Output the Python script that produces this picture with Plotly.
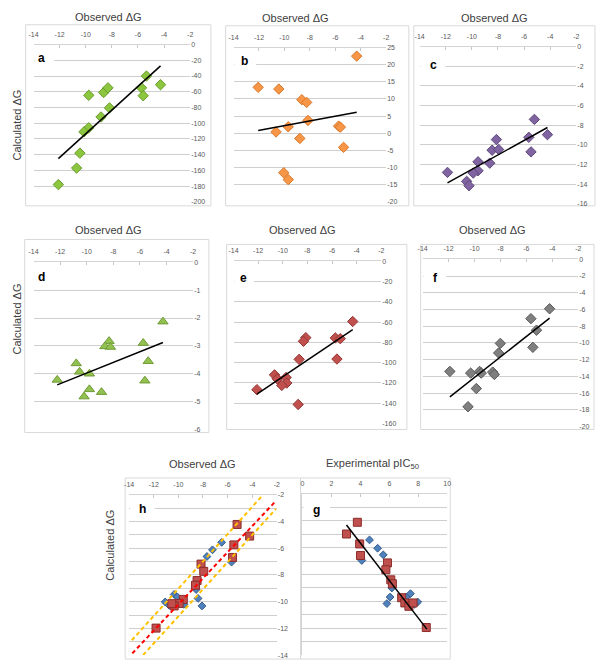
import numpy as np
import plotly.graph_objects as go

# ---------------- data ----------------
a_obs = [-4.27, -5.35, -5.73, -5.6, -9.77, -8.63, -8.3, -8.18, -8.83, -9.77, -10.14, -10.45, -10.7, -12.1]
a_calc = [-51, -40, -55, -65, -64.5, -61, -55, -80.5, -92, -105.7, -111, -138, -157, -178]

b_obs = [-4.32, -12.06, -10.44, -8.63, -8.25, -8.15, -9.7, -10.66, -5.74, -5.6, -8.79, -5.35, -10.05, -9.7]
b_calc = [22.5, 13.4, 12.9, 9.8, 9.0, 3.75, 1.9, 0.4, 2.1, 1.8, -1.5, -4.1, -11.5, -13.5]

c_obs = [-5.21, -4.21, -5.64, -5.47, -8.12, -8.45, -7.95, -8.63, -9.53, -9.53, -9.9, -11.87, -10.4, -10.22]
c_calc = [-7.41, -8.96, -9.23, -10.71, -9.46, -10.54, -10.47, -11.86, -11.72, -12.63, -12.87, -12.8, -13.71, -14.15]

d_obs = [-4.27, -5.75, -5.38, -5.63, -8.32, -8.64, -8.22, -10.79, -10.54, -9.8, -12.22, -9.8, -8.89, -10.2]
d_calc = [-2.13, -2.9, -3.55, -4.25, -2.83, -3.02, -3.04, -3.63, -3.93, -4.0, -4.22, -4.56, -4.66, -4.82]

e_obs = [-4.32, -5.73, -5.33, -5.6, -8.13, -8.32, -8.67, -10.67, -10.45, -9.73, -9.68, -10.08, -12.1, -8.75]
e_calc = [-59.4, -75.6, -76.3, -96.4, -75.3, -78.9, -96.7, -112, -115.9, -114.6, -120.1, -122.4, -126.6, -141.2]

f_obs = [-4.21, -5.65, -5.22, -5.5, -8.01, -8.14, -11.9, -10.3, -9.61, -9.48, -8.6, -8.47, -9.86, -10.5]
f_calc = [-5.92, -7.1, -8.48, -10.53, -10.06, -11.2, -13.41, -13.61, -13.41, -13.61, -13.49, -13.77, -15.46, -17.63]

h_red_x = [-5.23, -4.21, -5.49, -5.6, -8.16, -7.94, -8.48, -8.61, -9.6, -9.94, -10.34, -10.53, -11.81]
h_red_y = [-4.22, -5.09, -5.75, -6.69, -7.19, -7.73, -8.42, -8.77, -9.83, -10.13, -10.32, -10.15, -11.98]
h_blue_x = [-6.48, -7.23, -7.68, -5.68, -8.56, -8.4, -8.08, -10.34, -10.08, -11.07, -10.74, -9.55]
h_blue_y = [-5.56, -6.12, -6.62, -7.04, -9.09, -9.76, -10.32, -9.46, -9.65, -10.02, -10.27, -10.2]
# dashed reference lines in h (start/end values)
h_mid_x = [-13.74, -2.14]
h_mid_y = [-13.87, -2.52]
h_up_x = [-13.78, -3.14]
h_up_y = [-12.89, -2.02]
h_low_x = [-12.86, -2.08]
h_low_y = [-14.0, -3.06]

g_red_x = [3.79, 3.04, 3.95, 4.01, 5.87, 5.76, 6.1, 6.21, 6.85, 7.07, 7.35, 7.64, 8.55]
g_red_y = [-4.12, -4.99, -5.73, -6.59, -7.14, -7.65, -8.4, -8.69, -9.73, -10.12, -10.37, -10.12, -11.95]
g_blue_x = [4.63, 5.19, 5.58, 4.1, 6.17, 6.05, 5.83, 7.46, 7.96, 7.16, 7.73]
g_blue_y = [-5.43, -6.05, -6.54, -6.96, -9.01, -9.68, -10.17, -9.43, -10.05, -9.68, -10.22]
g_fit_x = [3.04, 8.59]
g_fit_y = [-4.32, -12.07]

obs_ticks = [-14, -12, -10, -8, -6, -4, -2]
pic_ticks = [0, 2, 4, 6, 8, 10]

# ---------------- layout helpers ----------------
W, H = 600, 667
def fx(p): return p / W
def fy(p): return 1 - p / H

FONT = "Liberation Sans, Arial, sans-serif"
TXT = "#404040"
GRID = "#cfcfcf"

fig = go.Figure()

# panel specs: (id, plot l, r, t, b, box l, r, t, b, yrange, ytick step, xticks, xrange)
panels = [
    (1, 29, 188, 41, 200, 21, 209, 21, 204, (-200, 0), 20, obs_ticks, (-14, -2)),
    (2, 232, 387, 44, 200, 224, 410, 22, 204, (-20, 25), 5, obs_ticks, (-14, -2)),
    (3, 421, 580, 43, 202, 415, 599, 22, 204, (-16, 0), 2, obs_ticks, (-14, -2)),
    (4, 29, 191, 261, 430, 20, 207, 238, 433, (-6, 0), 1, obs_ticks, (-14, -2)),
    (5, 232, 382, 260, 424, 225, 408, 243, 430, (-160, 0), 20, obs_ticks, (-14, -2)),
    (6, 424, 582, 258, 427, 422, 598, 243, 430, (-20, 0), 2, obs_ticks, (-14, -2)),
    (7, 126, 276, 496, 658, 122, 300, 479, 662, (-14, -2), 2, obs_ticks, (-14, -2)),
    (8, 302, 449, 495, 658, 300, 452, 479, 662, (-14, -2), 2, pic_ticks, (0, 10)),
]

shapes = []
for (i, l, r, t, b, bl, br, bt, bb, yr, ystep, xt, xr) in panels:
    sfx = "" if i == 1 else str(i)
    yvals = [float(v) for v in np.arange(yr[0], yr[1] + ystep / 2, ystep)]
    xax = dict(
        domain=[fx(l), fx(r)], range=list(xr), side="top", anchor="y" + sfx,
        tickvals=xt, ticktext=[f"{v:g}" for v in xt],
        tickfont=dict(size=7, color="#595959", family=FONT),
        showgrid=False, zeroline=False, showline=True, linecolor="#d4d4d4",
        ticks="inside", ticklen=3, tickcolor="#c8c8c8", fixedrange=True,
        ticklabelstandoff=4,
    )
    yax = dict(
        domain=[fy(b), fy(t)], range=list(yr), side="right", anchor="x" + sfx,
        tickvals=yvals, ticktext=[f"{v:g}" for v in yvals],
        tickfont=dict(size=7, color="#595959", family=FONT),
        showgrid=True, gridcolor=GRID, gridwidth=1, zeroline=False,
        showline=False, ticks="", fixedrange=True,
    )
    if i in (7, 8):
        yax["minor"] = dict(tickvals=list(range(-14, -1)), showgrid=True, gridcolor=GRID, gridwidth=1)
    if i == 8:
        yax["showticklabels"] = False
        yax["side"] = "left"
        yax["showline"] = True
        yax["linecolor"] = "#d4d4d4"
    fig.layout["xaxis" + sfx] = xax
    fig.layout["yaxis" + sfx] = yax
    shapes.append(dict(type="rect", xref="paper", yref="paper",
                       x0=fx(bl), x1=fx(br), y0=fy(bb), y1=fy(bt),
                       line=dict(color="#d9d9d9", width=1), layer="below"))


def axes(i):
    s = "" if i == 1 else str(i)
    return "x" + s, "y" + s


def scatter_panel(i, xs, ys, symbol, fill, edge, size):
    xa, ya = axes(i)
    fig.add_trace(go.Scatter(x=xs, y=ys, mode="markers", xaxis=xa, yaxis=ya,
                             marker=dict(symbol=symbol, size=size, color=fill,
                                         line=dict(color=edge, width=1)),
                             hoverinfo="x+y"))


def trend(i, xs, ys):
    xa, ya = axes(i)
    k, c = np.polyfit(xs, ys, 1)
    xx = np.array([min(xs), max(xs)])
    fig.add_trace(go.Scatter(x=xx, y=k * xx + c, mode="lines", xaxis=xa, yaxis=ya,
                             line=dict(color="black", width=1.5), hoverinfo="skip"))


scatter_panel(1, a_obs, a_calc, "diamond", "#8cc63e", "#6b9b2f", 8)
trend(1, a_obs, a_calc)
scatter_panel(2, b_obs, b_calc, "diamond", "#f79646", "#d9782b", 8)
trend(2, b_obs, b_calc)
scatter_panel(3, c_obs, c_calc, "diamond", "#8064a2", "#5f497a", 8)
trend(3, c_obs, c_calc)
scatter_panel(4, d_obs, d_calc, "triangle-up", "#93c150", "#6f9a36", 9)
trend(4, d_obs, d_calc)
scatter_panel(5, e_obs, e_calc, "diamond", "#c0504d", "#943634", 8)
trend(5, e_obs, e_calc)
scatter_panel(6, f_obs, f_calc, "diamond", "#7f7f7f", "#595959", 8)
trend(6, f_obs, f_calc)

# panel h
scatter_panel(7, h_blue_x, h_blue_y, "diamond", "#4f81bd", "#385d8a", 6)
scatter_panel(7, h_red_x, h_red_y, "square", "#c0504d", "#8b2d2b", 8)
for lx, ly, col in [(h_up_x, h_up_y, "#ffc000"), (h_low_x, h_low_y, "#ffc000"), (h_mid_x, h_mid_y, "#ff0000")]:
    fig.add_trace(go.Scatter(x=lx, y=ly, mode="lines", xaxis="x7", yaxis="y7",
                             line=dict(color=col, width=2, dash="4px,3px"), hoverinfo="skip"))

# panel g
scatter_panel(8, g_blue_x, g_blue_y, "diamond", "#4f81bd", "#385d8a", 6)
scatter_panel(8, g_red_x, g_red_y, "square", "#c0504d", "#8b2d2b", 8)
fig.add_trace(go.Scatter(x=g_fit_x, y=g_fit_y, mode="lines", xaxis="x8", yaxis="y8",
                         line=dict(color="black", width=1.5), hoverinfo="skip"))

# ---------------- annotations ----------------
ann = []
titles = [
    ("Observed ΔG", 105, 13), ("Observed ΔG", 295, 14), ("Observed ΔG", 497, 14),
    ("Observed ΔG", 105, 228), ("Observed ΔG", 302, 228), ("Observed ΔG", 495, 228),
    ("Observed ΔG", 200, 465), ("Experimental pIC<sub>50</sub>", 373, 465),
]
for txt, x, y in titles:
    ann.append(dict(text=txt, x=fx(x), y=fy(y), xref="paper", yref="paper",
                    showarrow=False, xanchor="center", yanchor="middle",
                    font=dict(size=11, color=TXT, family=FONT)))

for x, y in [(12, 122), (12, 318), (107, 547)]:
    ann.append(dict(text="Calculated ΔG", x=fx(x), y=fy(y), xref="paper", yref="paper",
                    showarrow=False, textangle=-90, xanchor="center", yanchor="middle",
                    font=dict(size=11, color=TXT, family=FONT)))

letters = [
    ("a", 37, 55, 29, 50), ("b", 243, 58, 232, 255), ("c", 435, 62, 421, 447),
    ("d", 37, 276, 29, 46), ("e", 242, 277, 232, 253), ("f", 437, 277, 424, 448),
    ("h", 140, 510, 126, 152), ("g", 316, 511, 302, 330),
]
for txt, x, y, c0, c1 in letters:
    shapes.append(dict(type="rect", xref="paper", yref="paper",
                       x0=fx(c0 + 1), x1=fx(c1), y0=fy(y + 5), y1=fy(y - 5),
                       fillcolor="white", line=dict(width=0), layer="above"))
    ann.append(dict(text="<b>%s</b>" % txt, x=fx(x), y=fy(y), xref="paper", yref="paper",
                    showarrow=False, xanchor="center", yanchor="middle",
                    font=dict(size=12, color="black", family=FONT)))

fig.update_layout(
    width=W, height=H, margin=dict(l=0, r=0, t=0, b=0),
    paper_bgcolor="white", plot_bgcolor="white",
    showlegend=False, annotations=ann, shapes=shapes,
    font=dict(family=FONT, color=TXT),
)

fig.write_html("out.html", config={"displayModeBar": False},
               post_script="document.body.style.margin='0px';document.body.style.overflow='hidden';")
